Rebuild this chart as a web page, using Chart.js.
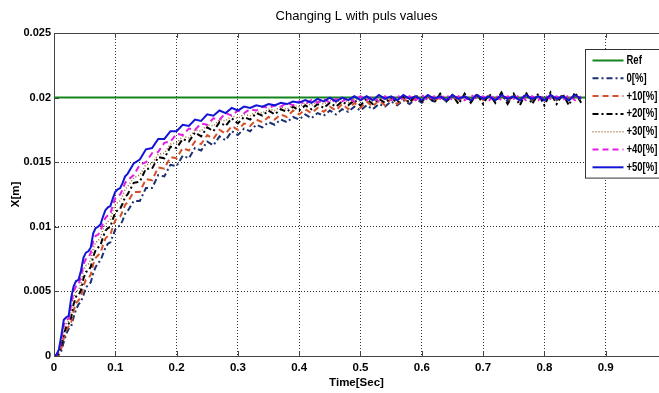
<!DOCTYPE html>
<html>
<head>
<meta charset="utf-8">
<script src="https://cdn.jsdelivr.net/npm/chart.js@4"></script>
<style>
  body { margin: 0; background: #fff; }
  canvas { display: block; }
</style>
</head>
<body>
<canvas id="myChart" width="659" height="393"></canvas>
<script>
// Tiempo [s] (muestreo más fino al principio)
const time = [
  0, 0.004, 0.008, 0.012, 0.016, 0.02, 0.024, 0.028, 0.032, 0.036,
  0.04, 0.044, 0.048, 0.052, 0.056, 0.06, 0.064, 0.068, 0.072, 0.076,
  0.08, 0.084, 0.088, 0.092, 0.096, 0.1, 0.104, 0.108, 0.112, 0.116, 0.12,
  0.13, 0.14, 0.15, 0.16, 0.17, 0.18, 0.19, 0.2, 0.21, 0.22, 0.23, 0.24, 0.25, 0.26, 0.27, 0.28, 0.29, 0.3,
  0.31, 0.32, 0.33, 0.34, 0.35, 0.36, 0.37, 0.38, 0.39, 0.4,
  0.41, 0.42, 0.43, 0.44, 0.45, 0.46, 0.47, 0.48, 0.49, 0.5,
  0.51, 0.52, 0.53, 0.54, 0.55, 0.56, 0.57, 0.58, 0.59, 0.6,
  0.61, 0.62, 0.63, 0.64, 0.65, 0.66, 0.67, 0.68, 0.69, 0.7,
  0.71, 0.72, 0.73, 0.74, 0.75, 0.76, 0.77, 0.78, 0.79, 0.8,
  0.81, 0.82, 0.83, 0.84, 0.85, 0.86
];

// Referencia
const refTime = [0, 1];
const refValues = [0.02, 0.02];

// 0[%]
const x0 = [
  0, 0, 0.0001, 0.0004, 0.0011, 0.0017, 0.0021, 0.0023, 0.0030, 0.0036,
  0.0040, 0.0042, 0.0047, 0.0053, 0.0055, 0.0057, 0.0064, 0.0069, 0.0072, 0.0074,
  0.0079, 0.0084, 0.0087, 0.0088, 0.0093, 0.0098, 0.0100, 0.0101, 0.0105, 0.0110, 0.0112,
  0.0120, 0.0120, 0.0130, 0.0130, 0.0140, 0.0139, 0.0148, 0.0147, 0.0155, 0.0153, 0.0161, 0.0159, 0.0166, 0.0163, 0.0170, 0.0167, 0.0174, 0.0171,
  0.0176, 0.0174, 0.0179, 0.0177, 0.0181, 0.0179, 0.0183, 0.0181, 0.0185, 0.0183,
  0.0187, 0.0184, 0.0188, 0.0186, 0.0190, 0.0187, 0.0191, 0.0189, 0.0193, 0.0190,
  0.0194, 0.0191, 0.0195, 0.0193, 0.0197, 0.0194, 0.0198, 0.0195, 0.0199, 0.0196,
  0.0200, 0.0197, 0.0201, 0.0197, 0.0201, 0.0198, 0.0201, 0.0197, 0.0202, 0.0198,
  0.0201, 0.0198, 0.0202, 0.0197, 0.0201, 0.0198, 0.0202, 0.0198, 0.0201, 0.0197,
  0.0202, 0.0198, 0.0201, 0.0198, 0.0202, 0.0198
];

// +10[%]
const x10 = [
  0, 0, 0.0001, 0.0006, 0.0014, 0.0020, 0.0023, 0.0026, 0.0035, 0.0041,
  0.0043, 0.0046, 0.0054, 0.0059, 0.0060, 0.0063, 0.0071, 0.0076, 0.0078, 0.0080,
  0.0086, 0.0091, 0.0093, 0.0094, 0.0100, 0.0105, 0.0107, 0.0108, 0.0112, 0.0117, 0.0119,
  0.0127, 0.0127, 0.0137, 0.0136, 0.0146, 0.0145, 0.0154, 0.0153, 0.0161, 0.0159, 0.0166, 0.0164, 0.0171, 0.0168, 0.0175, 0.0172, 0.0178, 0.0175,
  0.0180, 0.0178, 0.0183, 0.0181, 0.0185, 0.0183, 0.0187, 0.0185, 0.0190, 0.0187,
  0.0191, 0.0188, 0.0192, 0.0189, 0.0193, 0.0190, 0.0195, 0.0191, 0.0196, 0.0192,
  0.0197, 0.0193, 0.0198, 0.0194, 0.0199, 0.0195, 0.0199, 0.0196, 0.0200, 0.0197,
  0.0201, 0.0197, 0.0201, 0.0198, 0.0202, 0.0198, 0.0201, 0.0198, 0.0202, 0.0198,
  0.0201, 0.0199, 0.0202, 0.0198, 0.0201, 0.0198, 0.0202, 0.0199, 0.0201, 0.0198,
  0.0202, 0.0198, 0.0201, 0.0199, 0.0202, 0.0198
];

// +20[%]
const x20 = [
  0, 0, 0.0002, 0.0008, 0.0017, 0.0023, 0.0025, 0.0030, 0.0040, 0.0046,
  0.0047, 0.0051, 0.0060, 0.0065, 0.0066, 0.0069, 0.0077, 0.0082, 0.0084, 0.0086,
  0.0092, 0.0097, 0.0099, 0.0100, 0.0106, 0.0111, 0.0113, 0.0114, 0.0118, 0.0123, 0.0125,
  0.0134, 0.0135, 0.0145, 0.0145, 0.0154, 0.0153, 0.0162, 0.0161, 0.0168, 0.0166, 0.0173, 0.0170, 0.0177, 0.0174, 0.0181, 0.0178, 0.0184, 0.0180,
  0.0185, 0.0183, 0.0188, 0.0186, 0.0190, 0.0187, 0.0191, 0.0189, 0.0193, 0.0190,
  0.0194, 0.0191, 0.0195, 0.0192, 0.0196, 0.0193, 0.0197, 0.0194, 0.0198, 0.0194,
  0.0199, 0.0195, 0.0199, 0.0196, 0.0200, 0.0196, 0.0201, 0.0196, 0.0202, 0.0197,
  0.0202, 0.0196, 0.0203, 0.0197, 0.0202, 0.0195, 0.0203, 0.0196, 0.0203, 0.0195,
  0.0203, 0.0196, 0.0204, 0.0195, 0.0203, 0.0194, 0.0204, 0.0195, 0.0203, 0.0194,
  0.0204, 0.0195, 0.0203, 0.0194, 0.0204, 0.0196
];

// +30[%]
const x30 = [
  0, 0, 0.0003, 0.0010, 0.0020, 0.0025, 0.0027, 0.0034, 0.0045, 0.0050,
  0.0051, 0.0056, 0.0066, 0.0070, 0.0071, 0.0075, 0.0083, 0.0088, 0.0089, 0.0092,
  0.0098, 0.0102, 0.0104, 0.0106, 0.0112, 0.0117, 0.0119, 0.0120, 0.0124, 0.0129, 0.0131,
  0.0138, 0.0140, 0.0148, 0.0149, 0.0156, 0.0157, 0.0164, 0.0165, 0.0170, 0.0169, 0.0175, 0.0174, 0.0179, 0.0178, 0.0183, 0.0182, 0.0186, 0.0184,
  0.0187, 0.0186, 0.0189, 0.0188, 0.0191, 0.0190, 0.0193, 0.0191, 0.0194, 0.0193,
  0.0196, 0.0194, 0.0197, 0.0195, 0.0198, 0.0196, 0.0199, 0.0196, 0.0199, 0.0197,
  0.0200, 0.0197, 0.0201, 0.0198, 0.0201, 0.0198, 0.0201, 0.0199, 0.0202, 0.0198,
  0.0201, 0.0198, 0.0202, 0.0199, 0.0201, 0.0198, 0.0202, 0.0198, 0.0201, 0.0199,
  0.0202, 0.0198, 0.0201, 0.0199, 0.0202, 0.0198, 0.0201, 0.0198, 0.0202, 0.0199,
  0.0201, 0.0198, 0.0202, 0.0199, 0.0201, 0.0198
];

// +40[%]
const x40 = [
  0, 0.0001, 0.0004, 0.0013, 0.0024, 0.0028, 0.0029, 0.0040, 0.0050, 0.0054,
  0.0055, 0.0062, 0.0071, 0.0075, 0.0076, 0.0080, 0.0089, 0.0093, 0.0094, 0.0097,
  0.0103, 0.0107, 0.0109, 0.0110, 0.0117, 0.0122, 0.0124, 0.0125, 0.0129, 0.0134, 0.0136,
  0.0140, 0.0148, 0.0150, 0.0157, 0.0158, 0.0165, 0.0166, 0.0172, 0.0171, 0.0176, 0.0175, 0.0180, 0.0179, 0.0184, 0.0183, 0.0188, 0.0186, 0.0190,
  0.0188, 0.0191, 0.0190, 0.0193, 0.0192, 0.0194, 0.0193, 0.0196, 0.0194, 0.0197,
  0.0195, 0.0198, 0.0196, 0.0199, 0.0196, 0.0199, 0.0197, 0.0200, 0.0197, 0.0201,
  0.0198, 0.0201, 0.0197, 0.0201, 0.0198, 0.0202, 0.0198, 0.0201, 0.0198, 0.0202,
  0.0198, 0.0201, 0.0199, 0.0202, 0.0198, 0.0201, 0.0198, 0.0202, 0.0199, 0.0201,
  0.0198, 0.0202, 0.0198, 0.0201, 0.0199, 0.0202, 0.0198, 0.0201, 0.0198, 0.0202,
  0.0199, 0.0201, 0.0198, 0.0202, 0.0198, 0.0201
];

// +50[%]
const x50 = [
  0, 0.0001, 0.0005, 0.0016, 0.0028, 0.0030, 0.0031, 0.0045, 0.0054, 0.0058,
  0.0059, 0.0066, 0.0076, 0.0080, 0.0081, 0.0084, 0.0095, 0.0099, 0.0100, 0.0102,
  0.0108, 0.0113, 0.0115, 0.0116, 0.0122, 0.0127, 0.0129, 0.0130, 0.0134, 0.0139, 0.0141,
  0.0149, 0.0152, 0.0160, 0.0161, 0.0168, 0.0168, 0.0174, 0.0174, 0.0179, 0.0178, 0.0183, 0.0182, 0.0187, 0.0186, 0.0190, 0.0188, 0.0192, 0.0190,
  0.0193, 0.0192, 0.0194, 0.0193, 0.0195, 0.0194, 0.0196, 0.0195, 0.0197, 0.0196,
  0.0198, 0.0196, 0.0199, 0.0197, 0.0200, 0.0197, 0.0200, 0.0198, 0.0201, 0.0198,
  0.0201, 0.0198, 0.0202, 0.0199, 0.0201, 0.0198, 0.0202, 0.0199, 0.0201, 0.0198,
  0.0202, 0.0199, 0.0201, 0.0198, 0.0202, 0.0199, 0.0201, 0.0198, 0.0202, 0.0199,
  0.0201, 0.0198, 0.0202, 0.0199, 0.0201, 0.0198, 0.0202, 0.0199, 0.0201, 0.0198,
  0.0202, 0.0199, 0.0201, 0.0198, 0.0202, 0.0199
];

// Marcas de los ejes
const xTicks = [0, 0.1, 0.2, 0.3, 0.4, 0.5, 0.6, 0.7, 0.8, 0.9];
const yTicks = [0, 0.005, 0.01, 0.015, 0.02, 0.025];

const FONT = "'Liberation Sans', Arial, sans-serif";

function toPoints(xs, ys) {
  return xs.map((t, i) => ({ x: t, y: ys[i] }));
}

// Marcas hacia dentro, borde superior y leyenda dentro del gráfico
const matlabAxes = {
  id: "matlabAxes",
  afterDatasetsDraw(chart) {
    const { ctx, chartArea: a, scales } = chart;
    ctx.save();
    ctx.strokeStyle = "#444";
    ctx.lineWidth = 1;
    ctx.beginPath();
    ctx.moveTo(a.left, a.top + 0.5);
    ctx.lineTo(a.right, a.top + 0.5);
    xTicks.forEach((v) => {
      const px = Math.round(scales.x.getPixelForValue(v)) + 0.5;
      ctx.moveTo(px, a.bottom);
      ctx.lineTo(px, a.bottom - 5);
      ctx.moveTo(px, a.top);
      ctx.lineTo(px, a.top + 5);
    });
    yTicks.forEach((v) => {
      const py = Math.round(scales.y.getPixelForValue(v)) + 0.5;
      ctx.moveTo(a.left, py);
      ctx.lineTo(a.left + 5, py);
    });
    ctx.stroke();
    ctx.restore();
  },
  afterDraw(chart) {
    const { ctx, chartArea: a } = chart;
    const ds = chart.data.datasets;
    const bx = a.right - 73.5, by = a.top + 16.5, bw = 80, rowH = 17.8;
    const bh = rowH * ds.length + 4;
    ctx.save();
    ctx.fillStyle = "#fff";
    ctx.fillRect(bx, by, bw, bh);
    ctx.strokeStyle = "#333";
    ctx.lineWidth = 1;
    ctx.strokeRect(bx, by, bw, bh);
    ds.forEach((d, i) => {
      const y = by + 11 + i * rowH;
      ctx.beginPath();
      ctx.setLineDash(d.borderDash || []);
      ctx.strokeStyle = d.borderColor;
      ctx.lineWidth = d.borderWidth;
      ctx.moveTo(bx + 7, y);
      ctx.lineTo(bx + 38, y);
      ctx.stroke();
      ctx.setLineDash([]);
      // texto estrecho, como en la figura original
      ctx.save();
      ctx.translate(bx + 41, y);
      ctx.scale(0.76, 1);
      ctx.fillStyle = "#000";
      ctx.font = "bold 12.5px " + FONT;
      ctx.textBaseline = "middle";
      ctx.textAlign = "left";
      ctx.fillText(d.label, 0, 0);
      ctx.restore();
    });
    ctx.restore();
  },
};

document.addEventListener("DOMContentLoaded", function () {
  const ctx = document.getElementById("myChart").getContext("2d");

  new Chart(ctx, {
    type: "line",
    data: {
      datasets: [
        { label: "Ref", data: toPoints(refTime, refValues), borderColor: "#14851c", borderWidth: 2, order: 6 },
        { label: "0[%]", data: toPoints(time, x0), borderColor: "#1c3170", borderWidth: 2, borderDash: [6, 3, 2, 3], order: 5 },
        { label: "+10[%]", data: toPoints(time, x10), borderColor: "#d4512a", borderWidth: 2, borderDash: [6, 4], order: 4 },
        { label: "+20[%]", data: toPoints(time, x20), borderColor: "#000000", borderWidth: 2, borderDash: [6, 3, 2, 3], order: 3 },
        { label: "+30[%]", data: toPoints(time, x30), borderColor: "#9c6a32", borderWidth: 1.5, borderDash: [1, 2], order: 2 },
        { label: "+40[%]", data: toPoints(time, x40), borderColor: "#e01ee0", borderWidth: 2, borderDash: [6, 4], order: 1 },
        { label: "+50[%]", data: toPoints(time, x50), borderColor: "#1414d8", borderWidth: 2, order: 0 },
      ],
    },
    options: {
      responsive: false,
      animation: false,
      events: [],
      elements: {
        point: { radius: 0 },
        line: { tension: 0, fill: false },
      },
      layout: { padding: 0 },
      plugins: {
        legend: { display: false },
        tooltip: { enabled: false },
        title: {
          display: true,
          fullSize: false,
          text: "Changing L with puls values",
          color: "#000",
          font: { family: FONT, size: 13, weight: "normal" },
          padding: { top: 8.2, bottom: 9.2 },
        },
      },
      scales: {
        x: {
          type: "linear",
          min: 0,
          max: 0.987,
          afterBuildTicks: (scale) => {
            scale.ticks = xTicks.map((v) => ({ value: v }));
          },
          afterFit: (scale) => {
            scale.height = 37;
          },
          ticks: {
            color: "#000",
            padding: 5,
            maxRotation: 0,
            font: { family: FONT, size: 11.5, weight: "bold" },
            callback: (v) => String(v),
          },
          grid: { color: "#333", lineWidth: 1, drawTicks: false },
          border: { display: true, color: "#444", width: 1, dash: [1, 2] },
          title: {
            display: true,
            text: "Time[Sec]",
            color: "#000",
            font: { family: FONT, size: 11.5, weight: "bold" },
            padding: { top: 0, bottom: 3 },
          },
        },
        y: {
          min: 0,
          max: 0.025,
          afterBuildTicks: (scale) => {
            scale.ticks = yTicks.map((v) => ({ value: v }));
          },
          afterFit: (scale) => {
            scale.width = 54;
          },
          ticks: {
            color: "#000",
            padding: 3,
            font: { family: FONT, size: 11, weight: "bold" },
            callback: (v) => String(v),
          },
          grid: { color: "#333", lineWidth: 1, drawTicks: false },
          border: { display: true, color: "#444", width: 1, dash: [1, 2] },
          title: {
            display: true,
            text: "X[m]",
            color: "#000",
            font: { family: FONT, size: 11.5, weight: "bold" },
            padding: { top: 9, bottom: 0 },
          },
        },
      },
    },
    plugins: [matlabAxes],
  });
});
</script>
</body>
</html>
